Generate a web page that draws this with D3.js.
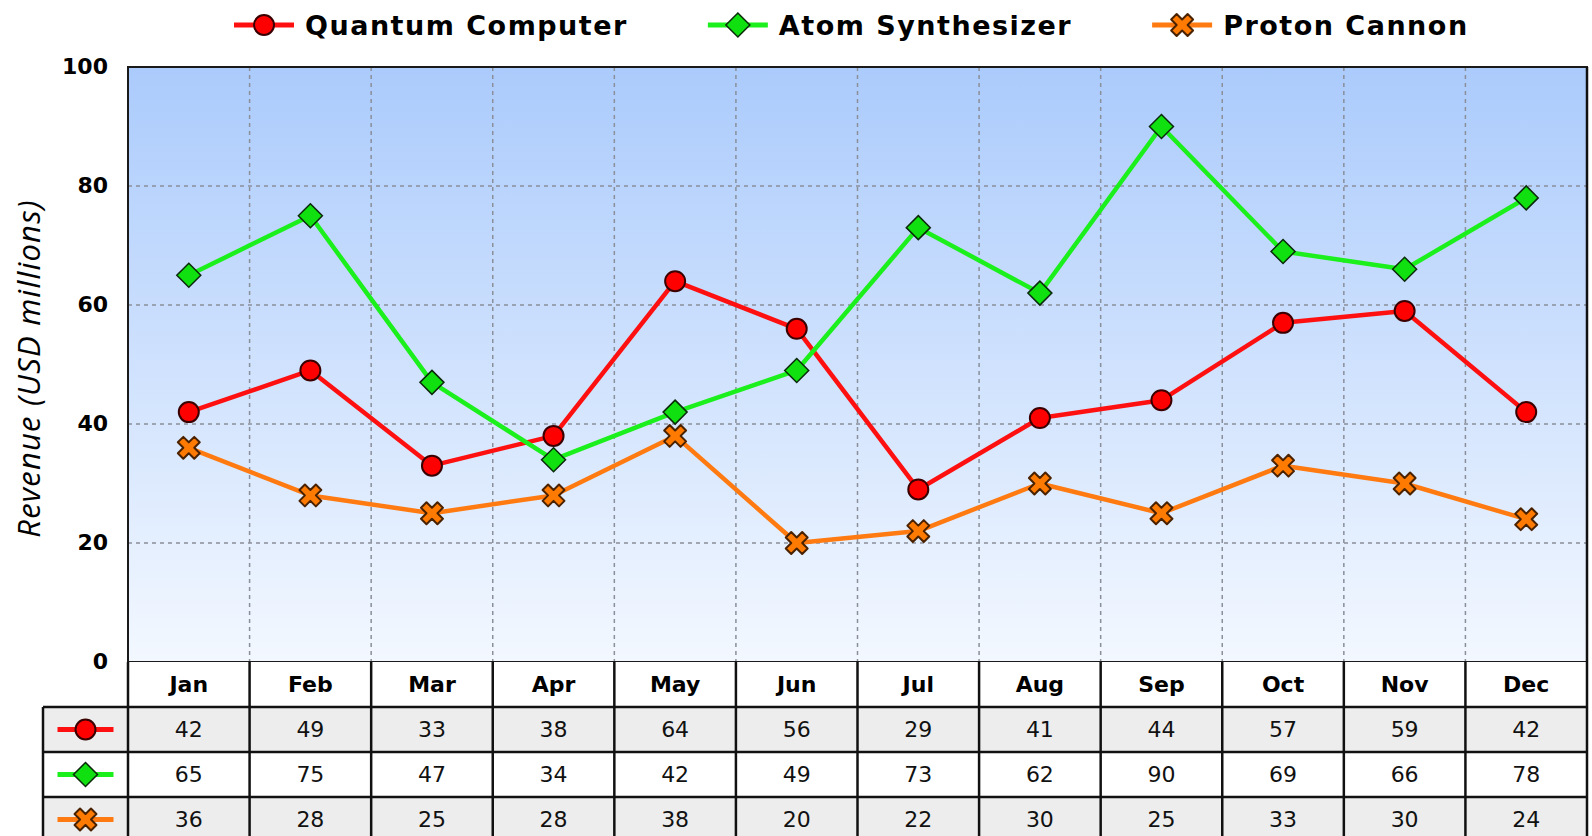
<!DOCTYPE html>
<html>
<head>
<meta charset="utf-8">
<script src="https://cdn.jsdelivr.net/npm/d3@7"></script>
<style>
  html, body { margin: 0; padding: 0; background: #fff; overflow: hidden; }
  svg { display: block; font-family: "DejaVu Sans", Verdana, sans-serif; }
</style>
</head>
<body>
<svg id="chart" width="1592" height="836"></svg>
<script>
const months = ["Jan", "Feb", "Mar", "Apr", "May", "Jun", "Jul", "Aug", "Sep", "Oct", "Nov", "Dec"];
const quantumComputer = [42, 49, 33, 38, 64, 56, 29, 41, 44, 57, 59, 42];
const atomSynthesizer = [65, 75, 47, 34, 42, 49, 73, 62, 90, 69, 66, 78];
const protonCannon = [36, 28, 25, 28, 38, 20, 22, 30, 25, 33, 30, 24];
const yTicks = [0, 20, 40, 60, 80, 100];

const series = [
  { name: "Quantum Computer", values: quantumComputer, line: "#ff1010", fill: "#ff0000", stroke: "#3a0000", marker: "circle" },
  { name: "Atom Synthesizer", values: atomSynthesizer, line: "#1cf01c", fill: "#10e010", stroke: "#0a2a0a", marker: "diamond" },
  { name: "Proton Cannon", values: protonCannon, line: "#ff7a10", fill: "#ff7a00", stroke: "#4a2200", marker: "cross" }
];

const plot = { left: 128, right: 1587, top: 67, bottom: 662 };
const rowH = 45;

const svg = d3.select("#chart");

const defs = svg.append("defs");
const grad = defs.append("linearGradient")
  .attr("id", "bg").attr("x1", 0).attr("y1", 0).attr("x2", 0).attr("y2", 1);
grad.append("stop").attr("offset", "0%").attr("stop-color", "#abcbfc");
grad.append("stop").attr("offset", "100%").attr("stop-color", "#f3f8ff");

const x = d3.scaleBand().domain(months).range([plot.left, plot.right]).padding(0);
const y = d3.scaleLinear().domain([0, 100]).range([plot.bottom, plot.top]);

// plot background
svg.append("rect")
  .attr("x", plot.left).attr("y", plot.top)
  .attr("width", plot.right - plot.left).attr("height", plot.bottom - plot.top)
  .attr("fill", "url(#bg)");

// grid
const grid = svg.append("g")
  .attr("stroke", "#8a8f99").attr("stroke-width", 1.5).attr("stroke-dasharray", "4,4");
grid.selectAll(".hg").data(yTicks.filter(d => d > 0 && d < 100)).enter().append("line")
  .attr("x1", plot.left).attr("x2", plot.right)
  .attr("y1", d => y(d)).attr("y2", d => y(d));
grid.selectAll(".vg").data(months.slice(1)).enter().append("line")
  .attr("x1", d => x(d)).attr("x2", d => x(d))
  .attr("y1", plot.top).attr("y2", plot.bottom);

// y axis labels
svg.append("g").selectAll("text").data(yTicks).enter().append("text")
  .attr("x", 108).attr("y", d => y(d))
  .attr("dy", "0.32em")
  .attr("text-anchor", "end")
  .style("font-size", "22px").style("font-weight", "bold")
  .text(d => d);

svg.append("text")
  .attr("transform", `translate(40,${(plot.top + 700) / 2 - 15}) rotate(-90)`)
  .attr("text-anchor", "middle")
  .style("font-family", "'Open Sans', 'Noto Sans', sans-serif")
  .style("font-style", "italic")
  .style("font-size", "31px")
  .style("letter-spacing", "1.2px")
  .text("Revenue (USD millions)");

// marker drawing
function drawMarker(g, s, cx, cy) {
  if (s.marker === "circle") {
    g.append("circle").attr("cx", cx).attr("cy", cy).attr("r", 10)
      .attr("fill", s.fill).attr("stroke", s.stroke).attr("stroke-width", 2);
  } else if (s.marker === "diamond") {
    g.append("path").attr("d", `M${cx},${cy - 12}L${cx + 12},${cy}L${cx},${cy + 12}L${cx - 12},${cy}Z`)
      .attr("fill", s.fill).attr("stroke", s.stroke).attr("stroke-width", 1.5);
  } else {
    g.append("path").attr("d", d3.symbol(d3.symbolCross, 300)())
      .attr("transform", `translate(${cx},${cy}) rotate(45)`)
      .attr("fill", s.fill).attr("stroke", s.stroke).attr("stroke-width", 2)
      .attr("stroke-linejoin", "round");
  }
}

// lines + markers
const line = d3.line().x((d, i) => x(months[i]) + x.bandwidth() / 2).y(d => y(d));
series.forEach(s => {
  svg.append("path").datum(s.values)
    .attr("d", line).attr("fill", "none")
    .attr("stroke", s.line).attr("stroke-width", 4.5).attr("stroke-linejoin", "round");
});
series.forEach(s => {
  const g = svg.append("g");
  s.values.forEach((v, i) => drawMarker(g, s, x(months[i]) + x.bandwidth() / 2, y(v)));
});

// plot border
svg.append("rect")
  .attr("x", plot.left).attr("y", plot.top)
  .attr("width", plot.right - plot.left).attr("height", plot.bottom - plot.top)
  .attr("fill", "none").attr("stroke", "#1a1a1a").attr("stroke-width", 2);

// data table
const tableLeft = 43;
const table = svg.append("g");
const headerTop = plot.bottom;
table.append("rect").attr("x", plot.left).attr("y", headerTop)
  .attr("width", plot.right - plot.left).attr("height", rowH).attr("fill", "#fff");
series.forEach((s, r) => {
  const ry = headerTop + rowH * (r + 1);
  table.append("rect").attr("x", tableLeft).attr("y", ry)
    .attr("width", plot.right - tableLeft).attr("height", rowH)
    .attr("fill", r % 2 === 0 ? "#ededed" : "#ffffff");
});
table.selectAll(".mh").data(months).enter().append("text")
  .attr("x", d => x(d) + x.bandwidth() / 2).attr("y", headerTop + rowH / 2)
  .attr("dy", "0.36em").attr("text-anchor", "middle")
  .style("font-size", "22px").style("font-weight", "bold")
  .text(d => d);
series.forEach((s, r) => {
  const cy = headerTop + rowH * (r + 1) + rowH / 2;
  table.append("g").selectAll("text").data(s.values).enter().append("text")
    .attr("x", (d, i) => x(months[i]) + x.bandwidth() / 2).attr("y", cy)
    .attr("dy", "0.36em").attr("text-anchor", "middle")
    .style("font-size", "22px").style("fill", "#111")
    .text(d => d);
  const mx = (tableLeft + plot.left) / 2;
  table.append("line").attr("x1", mx - 28).attr("x2", mx + 28).attr("y1", cy).attr("y2", cy)
    .attr("stroke", s.line).attr("stroke-width", 5);
  drawMarker(table.append("g"), s, mx, cy);
});
// table borders
const tb = table.append("g").attr("stroke", "#111").attr("stroke-width", 2.5);
const tableBottom = headerTop + rowH * 4;
months.forEach(m => {
  tb.append("line").attr("x1", x(m)).attr("x2", x(m)).attr("y1", headerTop).attr("y2", tableBottom);
});
tb.append("line").attr("x1", plot.right).attr("x2", plot.right).attr("y1", plot.top).attr("y2", tableBottom);
tb.append("line").attr("x1", tableLeft).attr("x2", tableLeft).attr("y1", headerTop + rowH).attr("y2", tableBottom);
for (let r = 1; r <= 3; r++) {
  tb.append("line").attr("x1", tableLeft).attr("x2", plot.right)
    .attr("y1", headerTop + rowH * r).attr("y2", headerTop + rowH * r);
}

// legend
const legend = svg.append("g");
let lx = 234;
series.forEach(s => {
  const ly = 25;
  legend.append("line").attr("x1", lx).attr("x2", lx + 60).attr("y1", ly).attr("y2", ly)
    .attr("stroke", s.line).attr("stroke-width", 5);
  drawMarker(legend.append("g"), s, lx + 30, ly);
  const t = legend.append("text")
    .attr("x", lx + 71).attr("y", ly).attr("dy", "0.36em")
    .style("font-size", "27px").style("font-weight", "bold").style("letter-spacing", "1.5px")
    .text(s.name);
  lx += 71 + t.node().getComputedTextLength() + 80;
});
</script>
</body>
</html>
